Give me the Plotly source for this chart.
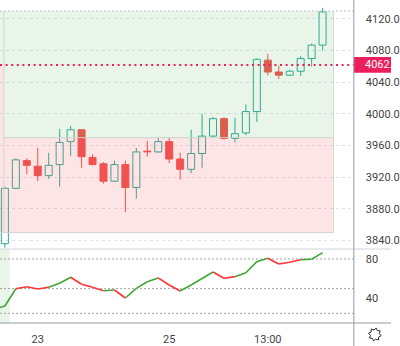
import math
import plotly.graph_objects as go

# ---- data -----------------------------------------------------------------
candle_idx = list(range(1, 31))
opens = [3836, 3906, 3941, 3934, 3922, 3936, 3965, 3980, 3945, 3937,
         3915, 3936, 3907, 3953, 3952, 3965, 3943, 3930, 3950, 3972,
         3994, 3969, 3976, 4003, 4068, 4053, 4049, 4054, 4070, 4087]
highs = [3908, 3944, 3944, 3957, 3951, 3981, 3985, 3981, 3949, 3939,
         3941, 3941, 3957, 3966, 3971, 3970, 3951, 3980, 4000, 3996,
         3996, 3995, 4012, 4070, 4076, 4061, 4056, 4073, 4089, 4134]
lows = [3831, 3905, 3924, 3915, 3918, 3908, 3947, 3932, 3935, 3912,
        3914, 3876, 3893, 3946, 3951, 3938, 3917, 3925, 3932, 3971,
        3967, 3964, 3973, 3990, 4049, 4044, 4048, 4048, 4060, 4080]
closes = [3906, 3942, 3935, 3922, 3935, 3964, 3980, 3946, 3936, 3915,
          3936, 3907, 3952, 3952, 3965, 3943, 3930, 3950, 3972, 3994,
          3969, 3975, 4003, 4069, 4053, 4049, 4054, 4070, 4087, 4129]

# oscillator (one point per bar, starting one bar before the first candle)
osc_idx = list(range(0, 31))
osc_values = [29.0, 32.4, 49.9, 51.9, 49.6, 51.3, 55.4, 61.5, 54.4, 51.3, 47.9,
              48.6, 40.5, 50.3, 57.0, 60.8, 53.7, 47.6, 53.7, 60.3, 66.8,
              60.5, 62.1, 66.1, 77.3, 80.7, 74.9, 76.7, 79.3, 79.7, 86.4]
osc_segment_dir = ["up", "up", "dn", "dn", "dn", "up", "up", "dn", "dn", "dn",
                   "up", "dn", "up", "up", "up", "dn", "dn", "up", "up", "up",
                   "dn", "dn", "up", "up", "up", "dn", "dn", "dn", "up", "up"]
osc_levels = [80, 50, 25]
osc_tick_vals = [40, 80]
osc_tick_labels = ["40", "80"]

price_tick_vals = [3840, 3880, 3920, 3960, 4000, 4040, 4080, 4120]
price_tick_labels = ["3840.0", "3880.0", "3920.0", "3960.0",
                     "4000.0", "4040.0", "4080.0", "4120.0"]

time_tick_vals = [4, 16, 25]
time_tick_labels = ["23", "25", "13:00"]

# long position tool: take profit / entry / stop
pos_target = 4130
pos_entry = 3970
pos_stop = 3850
pos_start = 0.91
pos_end = 31
last_price = 4062.0

# ---- styling --------------------------------------------------------------
UP = "#2fab9c"
DOWN = "#ef5350"
OSC_UP = "#3fa535"
OSC_DOWN = "#ff3333"
PRICE_RED = "#ec1f5c"
TEXT = "#444444"
FONT = "Roboto"
FS = 11

X_RANGE = [0.554, 32.855]
PLOT_RIGHT = 362 / 400
MAIN_BOTTOM = (346 - 249) / 346
OSC_BOTTOM = (346 - 323) / 346

fig = go.Figure()

# candle bodies
up_i = [i for i in range(len(opens)) if closes[i] >= opens[i]]
dn_i = [i for i in range(len(opens)) if closes[i] < opens[i]]

fig.add_trace(go.Bar(
    x=[candle_idx[i] for i in up_i],
    base=[opens[i] for i in up_i],
    y=[closes[i] - opens[i] for i in up_i],
    width=0.64,
    marker=dict(color="rgba(255,255,255,0)", line=dict(color=UP, width=1)),
    hoverinfo="skip", xaxis="x", yaxis="y"))
fig.add_trace(go.Bar(
    x=[candle_idx[i] for i in dn_i],
    base=[closes[i] for i in dn_i],
    y=[max(opens[i] - closes[i], 0.8) for i in dn_i],
    width=0.64,
    marker=dict(color=DOWN, line=dict(color=DOWN, width=1)),
    hoverinfo="skip", xaxis="x", yaxis="y"))

# wicks (kept outside the hollow bodies)
def wick_xy(ids):
    xs, ys = [], []
    for i in ids:
        top = max(opens[i], closes[i])
        bot = min(opens[i], closes[i])
        if highs[i] > top:
            xs += [candle_idx[i], candle_idx[i], None]
            ys += [top, highs[i], None]
        if lows[i] < bot:
            xs += [candle_idx[i], candle_idx[i], None]
            ys += [lows[i], bot, None]
    return xs, ys

for ids, col in ((up_i, UP), (dn_i, DOWN)):
    wx, wy = wick_xy(ids)
    fig.add_trace(go.Scatter(x=wx, y=wy, mode="lines",
                             line=dict(color=col, width=1),
                             hoverinfo="skip", xaxis="x", yaxis="y"))

# oscillator line, coloured per segment
for direction, col in (("up", OSC_UP), ("dn", OSC_DOWN)):
    xs, ys = [], []
    for k, d in enumerate(osc_segment_dir):
        if d == direction:
            xs += [osc_idx[k], osc_idx[k + 1], None]
            ys += [osc_values[k], osc_values[k + 1], None]
    fig.add_trace(go.Scatter(x=xs, y=ys, mode="lines",
                             line=dict(color=col, width=1.6),
                             hoverinfo="skip", xaxis="x2", yaxis="y2"))

shapes = []
GREEN_Z = "rgba(76,175,80,0.13)"
RED_Z = "rgba(239,83,80,0.15)"
# position zones drawn over the candles
shapes += [
    dict(type="rect", xref="x", yref="y", x0=pos_start, x1=pos_end,
         y0=pos_entry, y1=pos_target, fillcolor=GREEN_Z, line_width=0, layer="above"),
    dict(type="rect", xref="x", yref="y", x0=X_RANGE[0], x1=pos_start,
         y0=last_price, y1=pos_target, fillcolor=GREEN_Z, line_width=0, layer="above"),
    dict(type="rect", xref="x", yref="y", x0=pos_start, x1=pos_end,
         y0=pos_stop, y1=pos_entry, fillcolor=RED_Z, line_width=0, layer="above"),
    dict(type="rect", xref="x", yref="y", x0=X_RANGE[0], x1=pos_start,
         y0=pos_stop, y1=last_price, fillcolor=RED_Z, line_width=0, layer="above"),
    # borders
    dict(type="line", xref="x", yref="y", x0=X_RANGE[0], x1=X_RANGE[1],
         y0=pos_target, y1=pos_target, line=dict(color="#b9c4bd", width=1, dash="2px,2px"),
         layer="above"),
    dict(type="line", xref="x", yref="y", x0=pos_start, x1=pos_end,
         y0=pos_entry, y1=pos_entry, line=dict(color="#c9d6cc", width=1), layer="above"),
    dict(type="line", xref="x", yref="y", x0=X_RANGE[0], x1=pos_end,
         y0=pos_stop, y1=pos_stop, line=dict(color="#d6d0d0", width=1), layer="above"),
    dict(type="line", xref="x", yref="y", x0=pos_end, x1=pos_end,
         y0=pos_stop, y1=pos_target, line=dict(color="#d4dcd6", width=1), layer="above"),
    dict(type="line", xref="x", yref="y", x0=pos_start, x1=pos_start,
         y0=pos_stop, y1=pos_target, line=dict(color="#cfd6d2", width=1), layer="above"),
]
# highlighted start in the oscillator pane
shapes.append(dict(type="rect", xref="x2", yref="y2 domain", x0=X_RANGE[0], x1=1.45,
                   y0=0, y1=1, fillcolor=GREEN_Z, line_width=0, layer="below"))
# oscillator levels
for lv in osc_levels:
    shapes.append(dict(type="line", xref="x2 domain", yref="y2", x0=0, x1=1,
                       y0=lv, y1=lv, line=dict(color="#a0a3a8", width=1, dash="2px,2px"),
                       layer="below"))
# last price line and its label box
shapes.append(dict(type="line", xref="x domain", yref="y", x0=0, x1=1,
                   y0=last_price, y1=last_price,
                   line=dict(color=PRICE_RED, width=2, dash="2px,3.6px"), layer="above"))
shapes.append(dict(type="rect", xref="paper", yref="y", x0=PLOT_RIGHT, x1=1.0,
                   y0=last_price - 10, y1=last_price + 10,
                   fillcolor=PRICE_RED, line_width=0, layer="above"))
# pane separators
shapes += [
    dict(type="line", xref="paper", yref="paper", x0=0, x1=1, y0=MAIN_BOTTOM, y1=MAIN_BOTTOM,
         line=dict(color="#d1d4dc", width=1)),
    dict(type="line", xref="paper", yref="paper", x0=0, x1=1, y0=OSC_BOTTOM, y1=OSC_BOTTOM,
         line=dict(color="#9598a1", width=1)),
    dict(type="line", xref="paper", yref="paper", x0=PLOT_RIGHT, x1=PLOT_RIGHT, y0=0, y1=1,
         line=dict(color="#9598a1", width=1)),
]
# settings gear in the corner
cx, cy = 383.5, 334.5
pts = []
for k in range(16):
    a = k * math.pi / 8 + math.pi / 16
    r = 6.6 if k % 2 == 0 else 4.6
    pts.append(((cx + r * math.cos(a)) / 400, (346 - (cy + r * math.sin(a))) / 346))
path = "M " + " L ".join(f"{x:.5f},{y:.5f}" for x, y in pts) + " Z"
shapes.append(dict(type="path", xref="paper", yref="paper", path=path,
                   line=dict(color="#2a2e39", width=1), fillcolor="rgba(0,0,0,0)"))

annotations = [dict(x=371 / 400, y=last_price, xref="paper", yref="y", xanchor="left",
                    yanchor="middle", text=f"{last_price:.1f}", showarrow=False,
                    font=dict(family=FONT, size=FS, color="white"))]

tickfont = dict(family=FONT, size=FS, color=TEXT)
fig.update_layout(
    width=400, height=346,
    margin=dict(l=0, r=0, t=0, b=0),
    paper_bgcolor="white", plot_bgcolor="white",
    showlegend=False, barmode="overlay",
    font=dict(family=FONT, size=FS, color=TEXT),
    shapes=shapes, annotations=annotations,
    xaxis=dict(domain=[0, PLOT_RIGHT], range=X_RANGE, anchor="y",
               showticklabels=False, showgrid=False, zeroline=False, showline=False,
               fixedrange=True),
    xaxis2=dict(domain=[0, PLOT_RIGHT], range=X_RANGE, anchor="y2", matches="x",
                tickmode="array", tickvals=time_tick_vals, ticktext=time_tick_labels,
                ticks="", showgrid=False, zeroline=False, showline=False,
                ticklabelstandoff=8, tickfont=tickfont),
    yaxis=dict(domain=[MAIN_BOTTOM, 1], range=[3829.3, 4144.0], side="right", anchor="x",
               tickmode="array", tickvals=price_tick_vals, ticktext=price_tick_labels,
               ticks="", showgrid=True, gridcolor="#e0e3eb", griddash="dot", gridwidth=1,
               zeroline=False, showline=False, ticklabeloverflow="allow",
               ticklabelstandoff=11, tickfont=tickfont),
    yaxis2=dict(domain=[OSC_BOTTOM, MAIN_BOTTOM], range=[15.2, 90.1], side="right",
                anchor="x2", tickmode="array", tickvals=osc_tick_vals,
                ticktext=osc_tick_labels, ticks="", showgrid=False, zeroline=False,
                showline=False, ticklabeloverflow="allow", ticklabelstandoff=11,
                tickfont=tickfont),
)

# price-scale labels run past the right edge; keep them clipped to the chart box
clip_js = (
    "document.documentElement.style.overflow='hidden';"
    "document.body.style.margin='0';document.body.style.overflow='hidden';"
    "var gd=document.getElementById('{plot_id}');gd.style.overflow='hidden';"
    "gd.querySelectorAll('svg.main-svg').forEach(function(s){s.style.overflow='hidden';});"
)
fig.write_html("out.html", config={"displayModeBar": False}, post_script=clip_js)
